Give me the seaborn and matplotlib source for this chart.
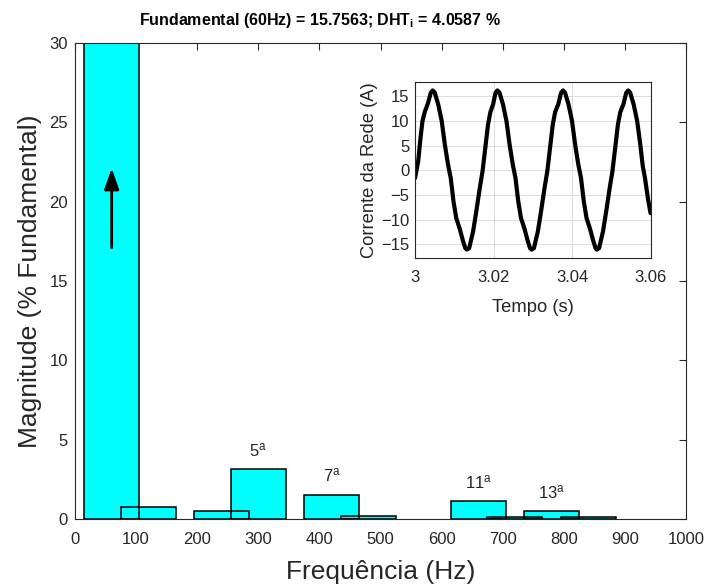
import numpy as np
import pandas as pd
import matplotlib
matplotlib.use("Agg")
import matplotlib.pyplot as plt
from matplotlib.patches import ArrowStyle
import seaborn as sns

# Harmonic spectrum (magnitude in % of the fundamental)
freqs_hz = [60, 120, 240, 300, 420, 480, 660, 720, 780, 840]
magnitude_pct = [100.0, 0.74, 0.48, 3.13, 1.53, 0.19, 1.11, 0.12, 0.48, 0.12]

# Labelled harmonics
harmonic_freqs = [300, 420, 660, 780]
harmonic_labels = ["5", "7", "11", "13"]

# Grid current waveform (time in ms after t = 3 s, current in A)
time_ms = [0.0, 0.8, 1.4, 1.9, 2.5, 3.3, 4.0, 4.5, 5.0, 5.9, 6.8, 7.6, 8.4, 9.1,
           9.8, 10.5, 11.4, 12.2, 12.8, 13.2, 13.8, 14.8, 15.6, 16.5, 17.2, 18.0,
           18.6, 19.2, 19.9, 20.5, 21.0, 21.5, 22.4, 23.3, 24.1, 24.9, 25.6, 26.3,
           27.0, 27.9, 28.7, 29.3, 29.7, 30.3, 31.3, 32.1, 33.0, 33.7, 34.5, 35.1,
           35.7, 36.5, 37.2, 37.7, 38.2, 39.1, 40.0, 40.8, 41.6, 42.3, 43.0, 43.7,
           44.6, 45.4, 46.0, 46.3, 46.9, 47.9, 48.7, 49.6, 50.3, 51.1, 51.7, 52.3,
           53.1, 53.8, 54.3, 54.8, 55.7, 56.6, 57.4, 58.0, 58.6, 59.3, 60.0]
current_a = [-1.6, 1.8, 6.6, 10.0, 11.9, 13.6, 15.7, 16.2, 15.8, 13.4, 10.0, 5.2, 1.2, -1.6,
             -6.3, -9.7, -11.9, -14.3, -15.8, -16.1, -15.8, -12.4, -8.4, -3.6, -0.2, 5.2,
             9.3, 11.8, 13.4, 15.7, 16.2, 15.8, 13.4, 10.0, 5.2, 1.2, -1.6, -6.3,
             -9.7, -11.9, -14.3, -15.8, -16.1, -15.8, -12.4, -8.4, -3.6, -0.2, 5.2, 9.3,
             11.8, 13.4, 15.7, 16.2, 15.8, 13.4, 10.0, 5.2, 1.2, -1.6, -6.3, -9.7,
             -11.9, -14.3, -15.8, -16.1, -15.8, -12.4, -8.4, -3.6, -0.2, 5.2, 9.3, 11.8,
             13.4, 15.7, 16.2, 15.8, 13.4, 10.0, 5.2, 1.0, -1.6, -5.5, -8.7]

sns.set_theme(style="white")
plt.rcParams.update({
    "font.family": ["Liberation Sans", "DejaVu Sans"],
    "mathtext.fontset": "custom",
    "mathtext.rm": "Liberation Sans",
    "mathtext.it": "Liberation Sans:italic",
    "mathtext.bf": "Liberation Sans:bold",
    "xtick.direction": "in",
    "ytick.direction": "in",
    "axes.edgecolor": "#262626",
    "axes.linewidth": 0.8,
    "xtick.color": "#262626",
    "ytick.color": "#262626",
    "axes.labelcolor": "#262626",
})

text_color = "#262626"
fig = plt.figure(figsize=(7.05, 5.88), dpi=100)
ax = fig.add_axes([0.1064, 0.1173, 0.8667, 0.8096])

spec = pd.DataFrame({"freq": freqs_hz, "mag": magnitude_pct})
# filled bars first, outlines on top so every edge stays visible
sns.barplot(data=spec, x="freq", y="mag", native_scale=True, width=1.5,
            color="#00FFFF", saturation=1, linewidth=0, errorbar=None, ax=ax)
sns.barplot(data=spec, x="freq", y="mag", native_scale=True, width=1.5,
            fill=False, color="black", linewidth=1.1, errorbar=None, ax=ax)

ax.set_xlim(0, 1000)
ax.set_ylim(0, 30)
ax.set_xticks(range(0, 1001, 100))
ax.set_yticks(range(0, 31, 5))
ax.tick_params(axis="both", labelsize=12, length=5, width=0.8, colors=text_color,
               top=True, right=True, labeltop=False, labelright=False)
ax.tick_params(axis="x", pad=9)
ax.tick_params(axis="y", pad=5)
ax.set_xlabel("Frequência (Hz)", fontsize=19, color=text_color, labelpad=10)
ax.set_ylabel("Magnitude (% Fundamental)", fontsize=19, color=text_color, labelpad=5)
for s in ax.spines.values():
    s.set_visible(True)
    s.set_color(text_color)

# harmonic order labels above their bars
mag_by_freq = dict(zip(freqs_hz, magnitude_pct))
for f, lab in zip(harmonic_freqs, harmonic_labels):
    ax.annotate(lab + r"$^\mathregular{a}$", xy=(f, mag_by_freq[f]), xytext=(0, 19),
                textcoords="offset pixels", ha="center", va="center",
                fontsize=12, color=text_color)

# arrow marking the fundamental bar
ax.annotate("", xy=(60, 22.1), xytext=(60, 17.1),
            arrowprops=dict(arrowstyle=ArrowStyle("-|>", head_length=0.9, head_width=0.32),
                            color="black", lw=2, mutation_scale=14, shrinkA=0, shrinkB=0))

fig.text(320 / 705, 1 - 20 / 588,
         r"Fundamental (60Hz) = 15.7563; DHT$_\mathbf{i}$ = 4.0587 %",
         ha="center", va="center", fontsize=11.5, fontweight="bold", color="black")

# inset: grid current
axin = fig.add_axes([0.5887, 0.5617, 0.334, 0.2983])
wave = pd.DataFrame({"t": 3 + np.array(time_ms) / 1000.0, "i": current_a})
sns.lineplot(data=wave, x="t", y="i", color="black", linewidth=3.0,
             estimator=None, ax=axin)
axin.set_xlim(3.0, 3.06)
axin.set_ylim(-17.75, 17.85)
axin.set_xticks([3.0, 3.02, 3.04, 3.06])
axin.set_xticklabels(["3", "3.02", "3.04", "3.06"])
axin.set_yticks(range(-15, 16, 5))
axin.grid(True, color="#dcdcdc", linewidth=0.7)
axin.tick_params(axis="both", labelsize=12, length=3, width=0.6, colors=text_color)
axin.tick_params(axis="x", pad=9)
axin.tick_params(axis="y", pad=4)
axin.set_xlabel("Tempo (s)", fontsize=13.2, color=text_color, labelpad=10)
axin.set_ylabel("Corrente da Rede (A)", fontsize=13.2, color=text_color, labelpad=2)
for s in axin.spines.values():
    s.set_visible(True)
    s.set_color(text_color)
    s.set_linewidth(0.8)

fig.savefig("out.png", dpi=100, facecolor="white")
